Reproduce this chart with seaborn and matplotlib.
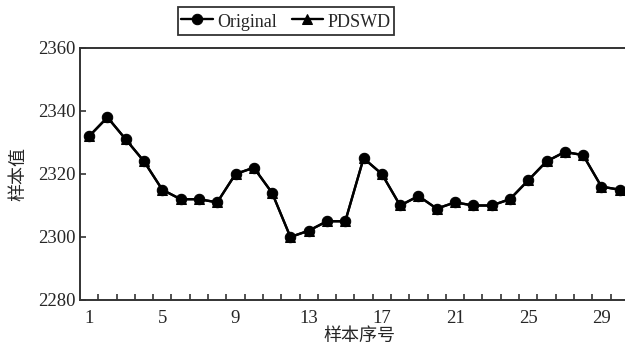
import numpy as np
import pandas as pd
import matplotlib
matplotlib.use("Agg")
import matplotlib.pyplot as plt
import seaborn as sns
from matplotlib.ticker import FixedLocator

samples = list(range(1, 31))
original = [2332, 2338, 2331, 2324, 2315, 2312, 2312, 2311, 2320, 2322,
            2314, 2300, 2302, 2305, 2305, 2325, 2320, 2310, 2313, 2309,
            2311, 2310, 2310, 2312, 2318, 2324, 2327, 2326, 2316, 2315]
pdswd = [2332, 2338, 2331, 2324, 2315, 2312, 2312, 2311, 2320, 2322,
         2314, 2300, 2302, 2305, 2305, 2325, 2320, 2310, 2313, 2309,
         2311, 2310, 2310, 2312, 2318, 2324, 2327, 2326, 2316, 2315]
series_names = ["Original", "PDSWD"]
x_ticks = [1, 5, 9, 13, 17, 21, 25, 29]
y_ticks = [2280, 2300, 2320, 2340, 2360]

df = pd.DataFrame({
    "x": samples * 2,
    "y": original + pdswd,
    "series": [series_names[0]] * len(samples) + [series_names[1]] * len(samples),
})

sns.set_theme(style="white")
plt.rcParams['font.family'] = ['Liberation Serif', 'Noto Sans CJK SC', 'DejaVu Sans']

fig = plt.figure(figsize=(6.25, 3.49), dpi=100)
ax = fig.add_axes([80 / 625, 49 / 349, 558 / 625, 252 / 349])

sns.lineplot(data=df, x="x", y="y", hue="series", style="series",
             palette=["black", "black"], markers=["o", "^"], dashes=False,
             markersize=7.5, linewidth=1.7, markeredgecolor="black", ax=ax,
             legend=True)

ax.set_xlim(0.5, 31)
ax.set_ylim(2280, 2360)
ax.set_xticks(x_ticks)
ax.set_xticklabels([str(t) for t in x_ticks], fontsize=13.5)
ax.xaxis.set_minor_locator(FixedLocator(np.arange(1.5, 31, 1.0)))
ax.tick_params(axis="x", which="major", length=0, pad=7)
ax.tick_params(axis="x", which="minor", direction="in", length=4, width=1.2,
               bottom=True, color="#333333")
ax.set_yticks(y_ticks)
ax.set_yticklabels([str(t) for t in y_ticks], fontsize=13.5)
ax.tick_params(axis="y", which="major", direction="in", length=4, width=1.2,
               left=True, color="#333333", pad=3)

for s in ax.spines.values():
    s.set_color("#333333")
    s.set_linewidth(1.4)

ax.set_xlabel("样本序号", family=['Noto Sans CJK SC'], fontsize=13, labelpad=0)
ax.set_ylabel("样本值", family=['Noto Sans CJK SC'], fontsize=13, labelpad=8)

leg = ax.legend(loc="center", bbox_to_anchor=(286 / 625, 1 - 21 / 349),
                bbox_transform=fig.transFigure, ncol=2, frameon=True,
                fancybox=False, edgecolor="black", fontsize=13,
                handlelength=1.75, columnspacing=0.8, handletextpad=0.25,
                borderpad=0.2, handleheight=1.3, borderaxespad=0, title=None)
leg.get_frame().set_linewidth(1.3)

fig.savefig("out.png", dpi=100)
